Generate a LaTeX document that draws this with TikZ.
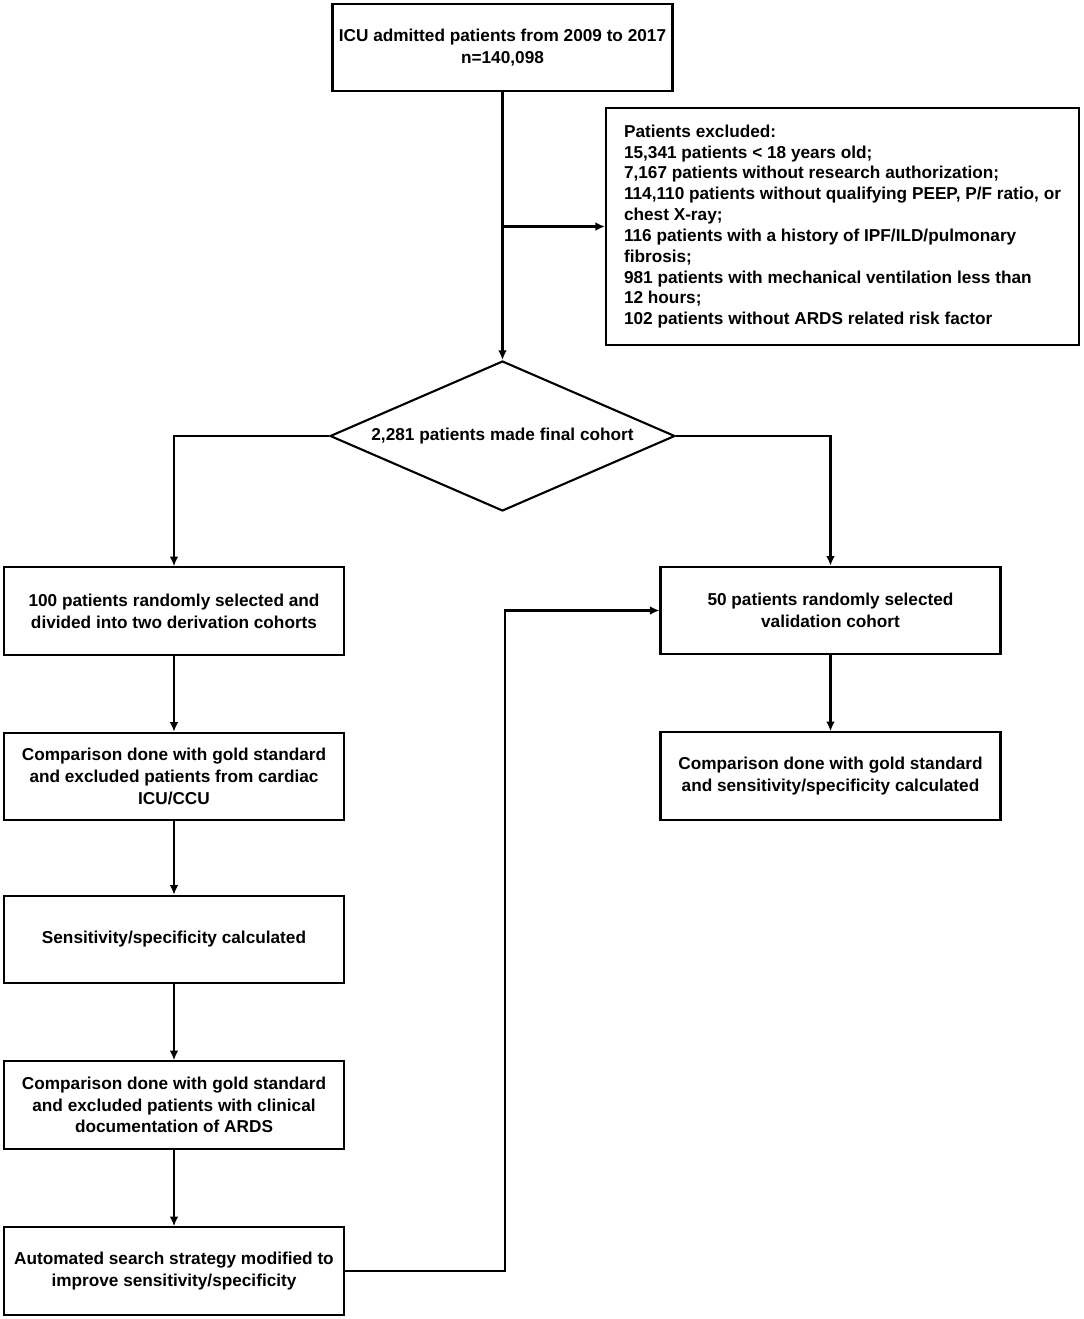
\documentclass[tikz,border=0pt]{standalone}
\usepackage{fontspec}
\setmainfont{Liberation Sans}
\usetikzlibrary{arrows.meta,shapes.geometric}
\tikzset{
  flownode/.style = {align=center, inner sep=0pt, draw=black, line width=1.2pt,
    font=\bfseries\fontsize{9.8}{12.4}\selectfont},
  flow_b/.style = {flownode, rectangle, minimum width=6.8cm,
    minimum height=1.75cm},% boite simple
  flow_x/.style = {flownode, rectangle, align=left, minimum width=9.46cm,
    minimum height=4.74cm, font=\bfseries\fontsize{9.8}{11.85}\selectfont},% boite des exclus
  flow_d/.style = {flownode, diamond, aspect=2.3,
    minimum width=6.9cm, minimum height=3cm}% decision
}
\begin{document}
\begin{tikzpicture}[x=0.02cm,y=-0.02cm,->,>={Latex[length=5.5pt,width=5pt]},line width=1.2pt]
	\useasboundingbox (0,0) rectangle (1084,1319);
	\node [flow_b] (icu) at (502.5,47.5) {ICU admitted patients from 2009 to 2017\\n=140,098};
	\node [flow_x] (excl) at (842.5,226.5) {Patients excluded:\\
	  15,341 patients < 18 years old;\\
	  7,167 patients without research authorization;\\
	  114,110 patients without qualifying PEEP, P/F ratio, or\\
	  chest X-ray;\\
	  116 patients with a history of IPF/ILD/pulmonary\\
	  fibrosis;\\
	  981 patients with mechanical ventilation less than\\
	  12 hours;\\
	  102 patients without ARDS related risk factor};
	\node [flow_d] (cohort) at (502.5,436) {2,281 patients made final cohort};

	\node [flow_b] (der1) at (174,611) {100 patients randomly selected and\\divided into two derivation cohorts};
	\node [flow_b] (der2) at (174,776.5) {Comparison done with gold standard\\and excluded patients from cardiac\\ICU/CCU};
	\node [flow_b] (der3) at (174,939.5) {Sensitivity/specificity calculated};
	\node [flow_b] (der4) at (174,1105) {Comparison done with gold standard\\and excluded patients with clinical\\documentation of ARDS};
	\node [flow_b] (der5) at (174,1271) {Automated search strategy modified to\\improve sensitivity/specificity};

	\node [flow_b] (val1) at (830.5,610.5) {50 patients randomly selected\\validation cohort};
	\node [flow_b] (val2) at (830.5,776) {Comparison done with gold standard\\and sensitivity/specificity calculated};

	\coordinate (split) at (icu.south |- excl.west);
	\coordinate (back) at (505,1271);
	\draw (icu) -- (cohort);
	\draw (split) -- (excl.west);
	\draw (cohort.west) -| (der1.north);
	\draw (cohort.east) -| (val1.north);
	\foreach \from/\to in {der1/der2,der2/der3,der3/der4,der4/der5,val1/val2}
	  \draw (\from) -- (\to);
	\draw (der5.east) -- (back) |- (val1.west);
\end{tikzpicture}
\end{document}
